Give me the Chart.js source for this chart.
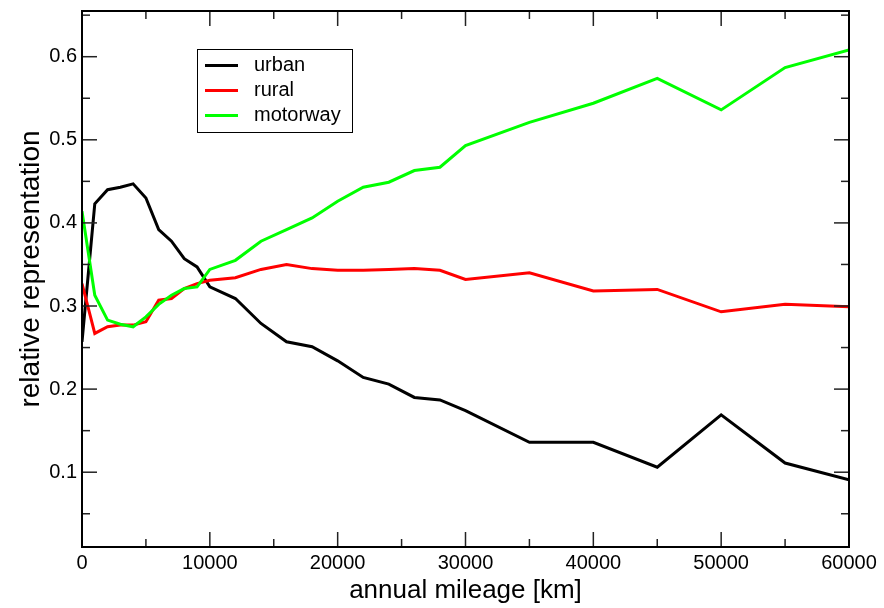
<!DOCTYPE html>
<html>
<head>
<meta charset="utf-8">
<script src="https://cdn.jsdelivr.net/npm/chart.js@4/dist/chart.umd.min.js"></script>
<style>
html,body{margin:0;padding:0;background:#fff;}
#wrap{width:884px;height:608px;}
</style>
</head>
<body>
<div id="wrap"><canvas id="c" width="884" height="608"></canvas></div>
<script>
const mileage = [0,1000,2000,3000,4000,5000,6000,7000,8000,9000,10000,12000,14000,16000,18000,20000,22000,24000,26000,28000,30000,35000,40000,45000,50000,55000,60000];
const urban = [0.257,0.423,0.440,0.443,0.447,0.430,0.392,0.378,0.357,0.347,0.323,0.309,0.279,0.257,0.251,0.234,0.214,0.206,0.190,0.187,0.174,0.136,0.136,0.106,0.169,0.111,0.091];
const rural = [0.327,0.267,0.275,0.277,0.277,0.281,0.307,0.309,0.321,0.327,0.331,0.334,0.344,0.350,0.345,0.343,0.343,0.344,0.345,0.343,0.332,0.340,0.318,0.320,0.293,0.302,0.299];
const motorway = [0.414,0.313,0.283,0.278,0.275,0.287,0.302,0.313,0.321,0.323,0.344,0.355,0.378,0.392,0.406,0.426,0.443,0.449,0.463,0.467,0.493,0.521,0.544,0.574,0.536,0.587,0.608];
const seriesNames = ['urban','rural','motorway'];
const seriesColors = ['#000000','#ff0000','#00ff00'];
const xTicks = [0,10000,20000,30000,40000,50000,60000];
const xMinorTicks = [5000,15000,25000,35000,45000,55000];
const yTicks = [0.1,0.2,0.3,0.4,0.5,0.6];
const yMinorTicks = [0.05,0.15,0.25,0.35,0.45,0.55,0.65];
const xTitle = 'annual mileage [km]';
const yTitle = 'relative representation';

const FONT = "'Liberation Sans', Arial, Helvetica, sans-serif";
const seriesData = [urban, rural, motorway];

const frameTicks = {
  id: 'frameTicks',
  afterDatasetsDraw(chart) {
    const {ctx, chartArea: {left, right, top, bottom}, scales: {x, y}} = chart;
    ctx.save();
    ctx.strokeStyle = '#222';
    ctx.lineWidth = 1.5;
    const seg = (x1, y1, x2, y2) => { ctx.beginPath(); ctx.moveTo(x1, y1); ctx.lineTo(x2, y2); ctx.stroke(); };
    xTicks.forEach(v => { const p = x.getPixelForValue(v); seg(p, bottom, p, bottom - 15); seg(p, top, p, top + 15); });
    xMinorTicks.forEach(v => { const p = x.getPixelForValue(v); seg(p, bottom, p, bottom - 8); seg(p, top, p, top + 8); });
    yTicks.forEach(v => { const p = y.getPixelForValue(v); seg(left, p, left + 15, p); seg(right, p, right - 15, p); });
    yMinorTicks.forEach(v => { const p = y.getPixelForValue(v); seg(left, p, left + 8, p); seg(right, p, right - 8, p); });
    ctx.strokeStyle = '#000';
    ctx.lineWidth = 2;
    ctx.strokeRect(left, top, right - left, bottom - top);
    ctx.restore();
  }
};

const yTitlePlugin = {
  id: 'yTitlePlugin',
  afterDraw(chart) {
    const ctx = chart.ctx;
    ctx.save();
    ctx.translate(31, 269);
    ctx.rotate(-Math.PI / 2);
    ctx.font = '28px ' + FONT;
    ctx.fillStyle = '#000';
    ctx.textAlign = 'center';
    ctx.textBaseline = 'middle';
    ctx.fillText(yTitle, 0, 0);
    ctx.restore();
  }
};

const boxLegend = {
  id: 'boxLegend',
  afterDraw(chart) {
    const ctx = chart.ctx;
    ctx.save();
    const bx = 197, by = 49, bw = 155, bh = 83;
    ctx.fillStyle = '#fff';
    ctx.fillRect(bx, by, bw, bh);
    ctx.strokeStyle = '#000';
    ctx.lineWidth = 1;
    ctx.strokeRect(bx + 0.5, by + 0.5, bw, bh);
    ctx.font = '20px ' + FONT;
    ctx.textBaseline = 'middle';
    ctx.textAlign = 'left';
    chart.data.datasets.forEach((ds, i) => {
      const yy = 65.5 + i * 25;
      ctx.strokeStyle = ds.borderColor;
      ctx.lineWidth = 3;
      ctx.beginPath(); ctx.moveTo(205, yy); ctx.lineTo(238, yy); ctx.stroke();
      ctx.fillStyle = '#000';
      ctx.fillText(ds.label, 254, yy);
    });
    ctx.restore();
  }
};

new Chart(document.getElementById('c'), {
  type: 'line',
  data: {
    datasets: seriesNames.map((name, i) => ({
      label: name,
      data: mileage.map((m, k) => ({x: m, y: seriesData[i][k]})),
      borderColor: seriesColors[i],
      backgroundColor: seriesColors[i],
      borderWidth: 3,
      pointRadius: 0,
      tension: 0,
      fill: false,
      order: 2 - i
    }))
  },
  options: {
    responsive: false,
    animation: false,
    layout: {padding: {top: 11, right: 35, left: 0, bottom: 0}},
    plugins: {legend: {display: false}, tooltip: {enabled: false}},
    scales: {
      x: {
        type: 'linear', min: 0, max: 60000,
        afterBuildTicks: s => { s.ticks = xTicks.map(v => ({value: v})); },
        afterFit: s => { s.height = 61; },
        grid: {display: false, drawTicks: false},
        border: {display: false},
        ticks: {color: '#000', font: {family: FONT, size: 20}, padding: 4, maxRotation: 0, callback: v => String(v)},
        title: {display: true, text: xTitle, color: '#000', font: {family: FONT, size: 26}, padding: {top: 0, bottom: 2}}
      },
      y: {
        type: 'linear', min: 0.01, max: 0.655,
        afterBuildTicks: s => { s.ticks = yTicks.map(v => ({value: v})); },
        afterFit: s => { s.width = 82; s.paddingTop = 0; s.paddingBottom = 0; },
        grid: {display: false, drawTicks: false},
        border: {display: false},
        ticks: {color: '#000', font: {family: FONT, size: 20}, padding: 5, callback: v => String(v)},
        title: {display: false}
      }
    }
  },
  plugins: [frameTicks, boxLegend, yTitlePlugin]
});
</script>
</body>
</html>
